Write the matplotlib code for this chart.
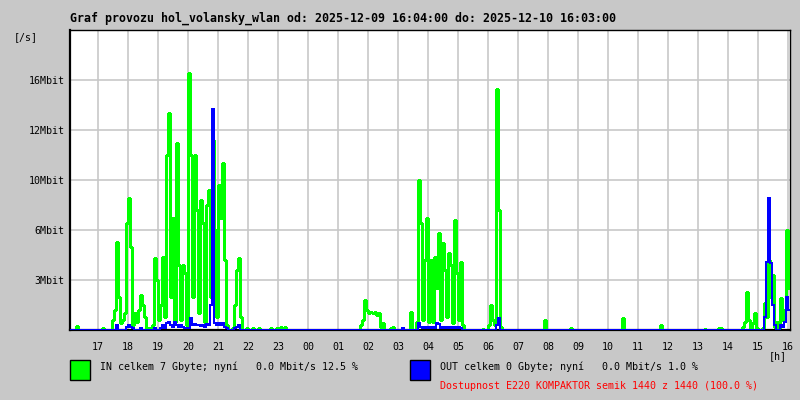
import numpy as np
import matplotlib
matplotlib.use("Agg")
import matplotlib.pyplot as plt
from matplotlib.patches import Rectangle

# traffic in Mbit/s, 4 minute samples, one row per hour (row 0 starts 16:04)
in_mbit = [
    [0, 0, 0, 0.25, 0, 0, 0, 0, 0, 0, 0, 0, 0, 0, 0],
    [0, 0.1, 0, 0, 0, 0, 0.6, 1.2, 5.3, 2.0, 0.4, 0.6, 1.0, 6.6, 8.6],
    [5.0, 0.3, 1.0, 0.5, 1.2, 2.1, 1.5, 0.8, 0, 0.1, 0, 0.3, 4.3, 3.0, 0.6],
    [1.5, 4.4, 0.8, 11.0, 13.4, 2.0, 7.0, 0.5, 11.5, 3.9, 0.6, 3.9, 3.4, 0.3, 16.6],
    [11.0, 2.0, 11.0, 7.6, 1.0, 8.4, 6.6, 0.5, 8.0, 9.2, 2.0, 11.6, 6.0, 0.8, 9.6],
    [7.0, 10.7, 4.2, 0.3, 0, 0, 0.1, 1.5, 3.6, 4.3, 0.8, 0, 0, 0.1, 0],
    [0, 0.15, 0, 0, 0.1, 0, 0, 0, 0, 0, 0.1, 0, 0, 0.1, 0],
    [0.2, 0.15, 0.2, 0, 0, 0, 0, 0, 0, 0, 0, 0, 0, 0, 0],
    [0, 0, 0, 0, 0, 0, 0, 0, 0, 0, 0, 0, 0, 0, 0],
    [0, 0, 0, 0, 0, 0, 0, 0, 0, 0, 0.3, 0.6, 1.8, 1.2, 1.0],
    [1.1, 1.0, 1.1, 0.9, 1.0, 0.2, 0.4, 0, 0, 0, 0.1, 0.2, 0, 0, 0],
    [0, 0, 0, 0, 0, 1.1, 0, 0, 0.5, 10.0, 6.6, 0.6, 4.2, 7.0, 0.5],
    [4.2, 0.5, 4.4, 2.5, 5.8, 0.6, 5.2, 3.6, 0.8, 4.6, 3.9, 0.4, 6.8, 3.4, 0.6],
    [4.1, 0.3, 0, 0, 0, 0, 0, 0, 0, 0, 0, 0.05, 0, 0, 0.3],
    [1.5, 0.6, 0.3, 15.3, 7.6, 0.2, 0, 0, 0, 0, 0, 0, 0, 0, 0],
    [0, 0, 0, 0, 0, 0, 0, 0, 0, 0, 0, 0, 0.6, 0, 0],
    [0, 0, 0, 0, 0, 0, 0, 0, 0, 0, 0.1, 0, 0, 0, 0],
    [0, 0, 0, 0, 0, 0, 0, 0, 0, 0, 0, 0, 0, 0, 0],
    [0, 0, 0, 0, 0, 0, 0.7, 0, 0, 0, 0, 0, 0, 0, 0],
    [0, 0, 0, 0, 0, 0, 0, 0, 0, 0, 0.3, 0, 0, 0, 0],
    [0, 0, 0, 0, 0, 0, 0, 0, 0, 0, 0, 0, 0, 0, 0],
    [0, 0, 0.05, 0, 0, 0, 0, 0, 0, 0.1, 0.1, 0, 0, 0, 0],
    [0, 0, 0, 0, 0, 0, 0.2, 0.5, 2.3, 0.6, 0.1, 0.4, 1.0, 0.1, 0],
    [0, 0.1, 1.6, 0.8, 4.2, 2.0, 3.3, 0.2, 0.5, 0.1, 1.9, 0.6, 1.2, 6.0, 2.5],
]
out_mbit = [
    [0, 0, 0, 0, 0, 0, 0, 0, 0, 0, 0, 0, 0, 0, 0],
    [0, 0, 0, 0, 0, 0, 0, 0, 0.3, 0, 0, 0, 0, 0.2, 0.3],
    [0.2, 0.1, 0, 0, 0, 0.1, 0, 0, 0, 0, 0, 0, 0.15, 0, 0],
    [0.15, 0.3, 0.1, 0.4, 0.5, 0.3, 0.2, 0.5, 0.3, 0.2, 0.3, 0.2, 0.15, 0.1, 0.1],
    [0.7, 0.3, 0.35, 0.3, 0.3, 0.25, 0.3, 0.2, 0.35, 0.3, 1.5, 13.7, 0.4, 0.3, 0.4],
    [0.3, 0.4, 0.2, 0.1, 0, 0, 0, 0.1, 0.2, 0.3, 0, 0, 0, 0, 0],
    [0, 0, 0, 0, 0, 0, 0, 0, 0, 0, 0, 0, 0, 0, 0],
    [0, 0, 0, 0, 0, 0, 0, 0, 0, 0, 0, 0, 0, 0, 0],
    [0, 0, 0, 0, 0, 0, 0, 0, 0, 0, 0, 0, 0, 0, 0],
    [0, 0, 0, 0, 0, 0, 0, 0, 0, 0, 0, 0, 0, 0, 0],
    [0, 0, 0, 0, 0, 0, 0, 0, 0, 0, 0, 0, 0, 0, 0],
    [0, 0.1, 0, 0, 0, 0, 0, 0, 0, 0.4, 0.2, 0.15, 0.2, 0.15, 0.2],
    [0.1, 0.2, 0.15, 0.4, 0.35, 0.15, 0.2, 0.15, 0.2, 0.15, 0.2, 0.1, 0.2, 0.15, 0.2],
    [0.15, 0, 0, 0, 0, 0, 0, 0, 0, 0, 0, 0, 0, 0, 0],
    [0, 0, 0, 0.3, 0.7, 0, 0, 0, 0, 0, 0, 0, 0, 0, 0],
    [0, 0, 0, 0, 0, 0, 0, 0, 0, 0, 0, 0, 0, 0, 0],
    [0, 0, 0, 0, 0, 0, 0, 0, 0, 0, 0, 0, 0, 0, 0],
    [0, 0, 0, 0, 0, 0, 0, 0, 0, 0, 0, 0, 0, 0, 0],
    [0, 0, 0, 0, 0, 0, 0, 0, 0, 0, 0, 0, 0, 0, 0],
    [0, 0, 0, 0, 0, 0, 0, 0, 0, 0, 0, 0, 0, 0, 0],
    [0, 0, 0, 0, 0, 0, 0, 0, 0, 0, 0, 0, 0, 0, 0],
    [0, 0, 0, 0, 0, 0, 0, 0, 0, 0, 0, 0, 0, 0, 0],
    [0, 0, 0, 0, 0, 0, 0, 0, 0, 0, 0, 0, 0, 0, 0],
    [0, 0, 0.8, 4.1, 8.6, 4.0, 1.5, 0.3, 0, 0, 0.3, 0.2, 0.5, 2.0, 1.2],
]
hour_labels = ["17", "18", "19", "20", "21", "22", "23", "00", "01", "02", "03", "04",
               "05", "06", "07", "08", "09", "10", "11", "12", "13", "14", "15", "16"]
y_ticks = [3, 6, 10, 12, 16]
y_labels = ["3Mbit", "6Mbit", "10Mbit", "12Mbit", "16Mbit"]

title = "Graf provozu hol_volansky_wlan od: 2025-12-09 16:04:00 do: 2025-12-10 16:03:00"
in_text = "IN celkem 7 Gbyte; nyní   0.0 Mbit/s 12.5 %"
out_text = "OUT celkem 0 Gbyte; nyní   0.0 Mbit/s 1.0 %"
avail_text = "Dostupnost E220 KOMPAKTOR semik 1440 z 1440 (100.0 %)"

BG = "#c8c8c8"
GRID = "#c8c8c8"
plt.rcParams["font.family"] = ["DejaVu Sans Mono"]

# the graph's y scale is piecewise: every gridline step is one "unit"
scale_vals = [0, 3, 6, 10, 12, 16, 20]
scale_pos = [0, 1, 2, 3, 4, 5, 6]
fwd = lambda v: np.interp(v, scale_vals, scale_pos)
inv = lambda p: np.interp(p, scale_pos, scale_vals)

inn = np.array(in_mbit).ravel()
out = np.array(out_mbit).ravel()
t = np.arange(len(inn) + 1) * 4
inn = np.append(inn, inn[-1])
out = np.append(out, out[-1])

fig = plt.figure(figsize=(8, 4), dpi=100, facecolor=BG)
ax = fig.add_axes([70 / 800, 70 / 400, 720 / 800, 300 / 400])
ax.set_facecolor("white")
ax.set_yscale("function", functions=(fwd, inv))
ax.set_xlim(0, 1440)
ax.set_ylim(0, 20)

ax.plot(t, inn, drawstyle="steps-post", color="#00ff00", lw=0.9, antialiased=False, zorder=3)
ax.plot(t, out, drawstyle="steps-post", color="#0000ff", lw=1.2, antialiased=False, zorder=4)

ax.set_xticks(56 + 60 * np.arange(24))
ax.set_xticklabels(hour_labels)
ax.set_yticks(y_ticks)
ax.set_yticklabels(y_labels)
ax.tick_params(length=0, labelsize=7.2, colors="black")
ax.tick_params(axis="x", pad=9)
ax.tick_params(axis="y", pad=4)
ax.grid(True, color=GRID, lw=1.2, zorder=1)
ax.set_axisbelow(True)

for side in ["top", "right"]:
    ax.spines[side].set_linewidth(1)
for side in ["left", "bottom"]:
    ax.spines[side].set_linewidth(1.6)

fig.text(70 / 800, 1 - 18 / 400, title, fontsize=8.4, fontweight="bold", va="center", ha="left")
fig.text(26 / 800, 1 - 37 / 400, "[/s]", fontsize=7.2, va="center", ha="center")
fig.text(778 / 800, 1 - 356 / 400, "[h]", fontsize=7.2, va="center", ha="center")

fig.add_artist(Rectangle((70 / 800, 20 / 400), 20 / 800, 20 / 400, transform=fig.transFigure,
                         facecolor="#00ff00", edgecolor="black", lw=1))
fig.add_artist(Rectangle((410 / 800, 20 / 400), 20 / 800, 20 / 400, transform=fig.transFigure,
                         facecolor="#0000ff", edgecolor="black", lw=1))
fig.text(100 / 800, 1 - 367 / 400, in_text, fontsize=7.2, va="center", ha="left")
fig.text(440 / 800, 1 - 367 / 400, out_text, fontsize=7.2, va="center", ha="left")
fig.text(440 / 800, 1 - 386 / 400, avail_text, fontsize=7.2, va="center", ha="left", color="#ff0000")

fig.savefig("out.png", dpi=100, facecolor=BG)
